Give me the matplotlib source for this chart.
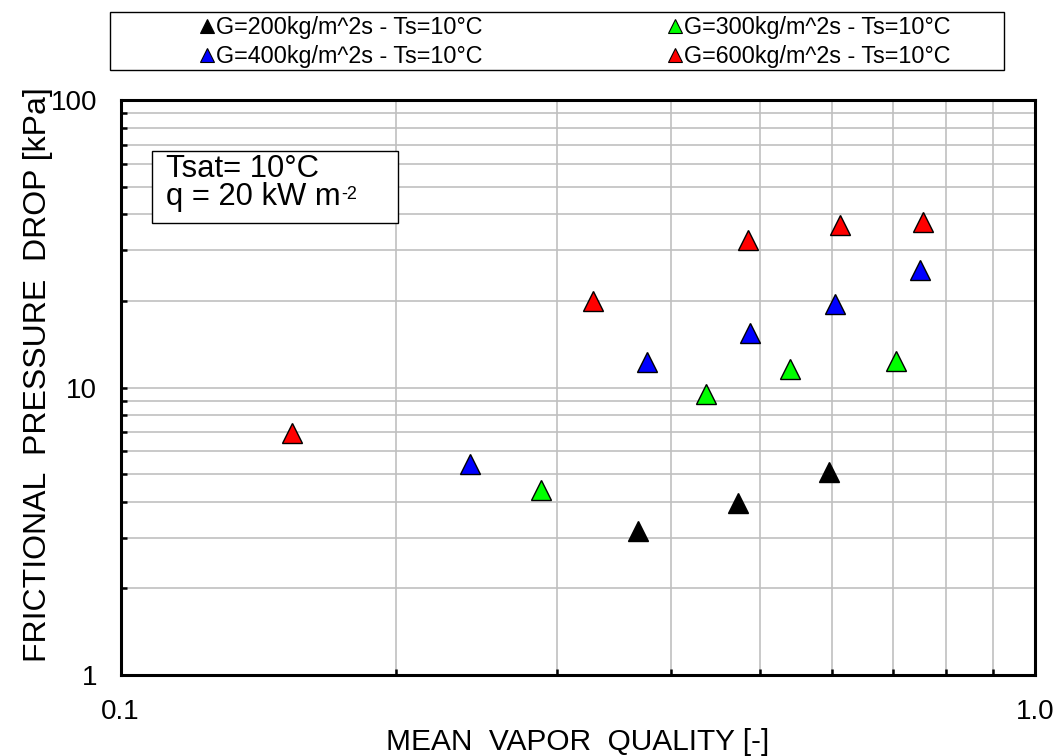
import matplotlib
matplotlib.use("Agg")
import matplotlib.pyplot as plt
from matplotlib.lines import Line2D
from matplotlib.patches import Rectangle
from matplotlib.ticker import FixedLocator, NullFormatter

plt.rcParams['font.family'] = ['Liberation Sans', 'DejaVu Sans']

# data
x_g200 = [0.368, 0.473, 0.596]
y_g200 = [3.18, 3.97, 5.07]
x_g300 = [0.288, 0.437, 0.540, 0.704]
y_g300 = [4.41, 9.51, 11.58, 12.38]
x_g400 = [0.241, 0.376, 0.488, 0.605, 0.748]
y_g400 = [5.43, 12.29, 15.47, 19.5, 25.6]
x_g600 = [0.154, 0.329, 0.486, 0.612, 0.754]
y_g600 = [6.95, 20.0, 32.6, 36.7, 37.5]

labels = ["G=200kg/m^2s - Ts=10°C", "G=300kg/m^2s - Ts=10°C",
          "G=400kg/m^2s - Ts=10°C", "G=600kg/m^2s - Ts=10°C"]
colors = ["#000000", "#00ff00", "#0000ff", "#ff0000"]
xs = [x_g200, x_g300, x_g400, x_g600]
ys = [y_g200, y_g300, y_g400, y_g600]

x_ticks = [0.1, 1.0]
x_ticklabels = ["0.1", "1.0"]
y_ticks = [1, 10, 100]
y_ticklabels = ["1", "10", "100"]

W, H = 1060, 756
fig = plt.figure(figsize=(W / 100, H / 100), dpi=100)
ax = fig.add_axes([120.5 / W, 1 - 675 / H, (1035 - 120.5) / W, (675 - 100) / H])

for xv, yv, c in zip(xs, ys, colors):
    ax.plot(xv, yv, linestyle='none', marker='^', markersize=14.5,
            markerfacecolor=c, markeredgecolor='black', markeredgewidth=1.0,
            zorder=5, clip_on=False)

ax.set_xscale('log')
ax.set_yscale('log')
ax.set_xlim(0.1, 1.0)
ax.set_ylim(1, 100)

ax.xaxis.set_major_locator(FixedLocator(x_ticks))
ax.set_xticklabels(x_ticklabels)
ax.xaxis.set_minor_locator(FixedLocator([0.2, 0.3, 0.4, 0.5, 0.6, 0.7, 0.8, 0.9]))
ax.xaxis.set_minor_formatter(NullFormatter())
ax.yaxis.set_major_locator(FixedLocator(y_ticks))
ax.set_yticklabels(y_ticklabels)
ax.yaxis.set_minor_locator(FixedLocator([2, 3, 4, 5, 6, 7, 8, 9, 20, 30, 40, 50, 60, 70, 80, 90]))
ax.yaxis.set_minor_formatter(NullFormatter())

ax.tick_params(axis='both', which='both', direction='in', length=4.5, width=1.8,
               top=False, right=False, color='black')
ax.tick_params(axis='x', which='major', pad=17, labelsize=20)
ax.tick_params(axis='y', which='major', pad=17, labelsize=20)

ax.grid(True, which='both', color='#c0c0c0', linewidth=1.2)
ax.set_axisbelow(True)
for s in ax.spines.values():
    s.set_linewidth(2.2)
    s.set_color('black')

fig.text(578 / W, 1 - 750 / H, "MEAN  VAPOR  QUALITY [-]", fontsize=21.5,
         ha='center', va='baseline')
fig.text(38 / W, 1 - 375 / H, "FRICTIONAL  PRESSURE  DROP [kPa]", fontsize=23,
         ha='center', va='center', rotation=90)

# annotation box
fig.patches.append(Rectangle((152 / W, 1 - 223 / H), (398 - 152) / W, (223 - 151) / H,
                             transform=fig.transFigure, facecolor='white',
                             edgecolor='black', linewidth=1.0, zorder=6))
fig.text(166 / W, 1 - 177 / H, "Tsat= 10°C", fontsize=22.3, ha='left', va='baseline', zorder=7)
t2 = fig.text(166 / W, 1 - 204.5 / H, "q = 20 kW m", fontsize=22.3, ha='left',
              va='baseline', zorder=7)
fig.canvas.draw()
bb = t2.get_window_extent(renderer=fig.canvas.get_renderer())
fig.text((bb.x1 + 1) / W, 1 - 199 / H, "-2", fontsize=13, ha='left',
         va='baseline', zorder=7)

# legend box
fig.patches.append(Rectangle((110 / W, 1 - 70 / H), (1004 - 110) / W, (70 - 12) / H,
                             transform=fig.transFigure, facecolor='white',
                             edgecolor='black', linewidth=1.0))

def handle(c):
    return Line2D([], [], linestyle='none', marker='^', markersize=10,
                  markerfacecolor=c, markeredgecolor='black', markeredgewidth=0.8)

kw = dict(frameon=False, fontsize=16.8, borderpad=0, borderaxespad=0,
          handlelength=0.7, handletextpad=0.05, labelspacing=0.25, loc='center left')
leg1 = fig.legend([handle(colors[0]), handle(colors[2])], [labels[0], labels[2]],
                  bbox_to_anchor=(198.5 / W, 1 - 42 / H), **kw)
leg2 = fig.legend([handle(colors[1]), handle(colors[3])], [labels[1], labels[3]],
                  bbox_to_anchor=(666.5 / W, 1 - 42 / H), **kw)

fig.savefig("out.png", dpi=100)
